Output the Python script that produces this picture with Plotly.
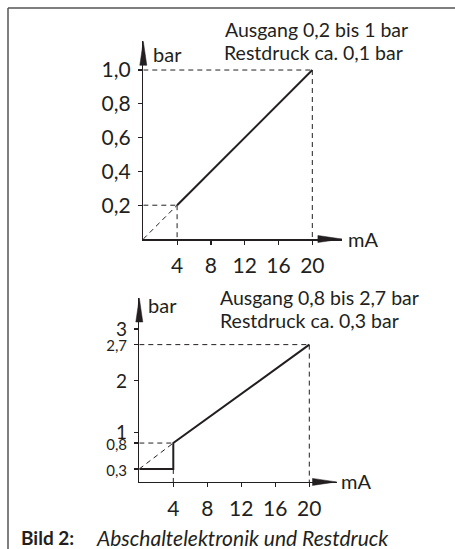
import plotly.graph_objects as go

W, H = 455, 549
FONT = "Lato"
INK = "#231f20"

# ---------------- data ----------------
top_ma = [4, 20]
top_bar = [0.2, 1.0]
top_xticks = [4, 8, 12, 16, 20]
top_yticks = [0.2, 0.4, 0.6, 0.8, 1.0]
top_yticktext = ["0,2", "0,4", "0,6", "0,8", "1,0"]
top_text = ["Ausgang 0,2 bis 1 bar", "Restdruck ca. 0,1 bar"]

bot_ma = [0, 4, 4, 20]
bot_bar = [0.3, 0.3, 0.8, 2.7]
bot_xticks = [4, 8, 12, 16, 20]
bot_yticks = [0.3, 0.8, 1, 2, 2.7, 3]
bot_yticktext = ["0,3", "0,8", "1", "2", "2,7", "3"]
bot_small = ["0,3", "0,8", "2,7"]
bot_text = ["Ausgang 0,8 bis 2,7 bar", "Restdruck ca. 0,3 bar"]

caption_bold = "Bild 2:"
caption_italic = "Abschaltelektronik und Restdruck"


def xp(px):
    return px / W


def yp(px):
    return 1 - px / H


fig = go.Figure()

dash = dict(color=INK, width=1, dash="5px,4px")

# ---- top chart ----
x0, y0 = top_ma[0], top_bar[0]
x1, y1 = top_ma[-1], top_bar[-1]
for xs, ys in [([0, x0], [0, y0]), ([0, x0], [y0, y0]), ([x0, x0], [y0, 0]),
               ([0, x1], [y1, y1]), ([x1, x1], [y1, 0])]:
    fig.add_trace(go.Scatter(x=xs, y=ys, mode="lines", line=dash,
                             xaxis="x", yaxis="y", hoverinfo="skip"))
fig.add_trace(go.Scatter(x=top_ma, y=top_bar, mode="lines",
                         line=dict(color=INK, width=2), xaxis="x", yaxis="y"))

# ---- bottom chart ----
bx0, by0 = bot_ma[0], bot_bar[0]
bx1, by1 = bot_ma[2], bot_bar[2]
bx2, by2 = bot_ma[-1], bot_bar[-1]
for xs, ys in [([bx0, bx1], [by0, by1]), ([0, bx1], [by1, by1]),
               ([bx1, bx1], [bot_bar[1], 0]),
               ([0, bx2], [by2, by2]), ([bx2, bx2], [by2, 0])]:
    fig.add_trace(go.Scatter(x=xs, y=ys, mode="lines", line=dash,
                             xaxis="x2", yaxis="y2", hoverinfo="skip"))
fig.add_trace(go.Scatter(x=bot_ma, y=bot_bar, mode="lines",
                         line=dict(color=INK, width=2), xaxis="x2", yaxis="y2"))

TOP_XR = [0, 23.5]
TOP_YR = [0, 1.17]
BOT_XR = [0, 23.2]
BOT_YR = [0.05, 3.6]

TOP_XD = [xp(143.3), xp(341.9)]
TOP_YD = [yp(239), yp(41.3)]
BOT_XD = [xp(139.3), xp(336.5)]
BOT_YD = [yp(481.9), yp(298)]

axis_common = dict(showgrid=False, zeroline=False, showline=True, linecolor=INK,
                   linewidth=1.5, ticks="outside", ticklen=4, tickwidth=1.2,
                   tickcolor=INK, tickfont=dict(family=FONT, size=21, color=INK),
                   fixedrange=True)


def ytext(texts):
    out = []
    for t in texts:
        if t in bot_small:
            out.append('<span style="font-size:15px">' + t + '</span>')
        else:
            out.append(t)
    return out


fig.update_layout(
    width=W, height=H, margin=dict(l=0, r=0, t=0, b=0),
    paper_bgcolor="white", plot_bgcolor="rgba(0,0,0,0)", showlegend=False,
    xaxis=dict(axis_common, domain=TOP_XD, range=TOP_XR,
               tickvals=top_xticks, anchor="y", ticklabelstandoff=3),
    yaxis=dict(axis_common, domain=TOP_YD, range=TOP_YR,
               tickvals=top_yticks, ticktext=top_yticktext, anchor="x",
               ticklabelstandoff=3),
    xaxis2=dict(axis_common, domain=BOT_XD, range=BOT_XR,
                tickvals=bot_xticks, anchor="y2", ticklabelstandoff=3),
    yaxis2=dict(axis_common, domain=BOT_YD, range=BOT_YR,
                tickvals=bot_yticks, ticktext=ytext(bot_yticktext),
                anchor="x2", ticklabelstandoff=3,
                tickfont=dict(family=FONT, size=19, color=INK)),
)

# arrowheads at the axis ends (paper-anchored so they are not clipped)
XHEAD = "M-24,-3.5 L0,0 L-24,3.5 Z"
YHEAD = "M-3.5,-24 L0,0 L3.5,-24 Z"
arrows = [
    (TOP_XD[1], TOP_YD[0], XHEAD),
    (TOP_XD[0], TOP_YD[1], YHEAD),
    (BOT_XD[1], BOT_YD[0], XHEAD),
    (BOT_XD[0], BOT_YD[1], YHEAD),
]
for xa, ya, path in arrows:
    fig.add_shape(type="path", xref="paper", yref="paper", xsizemode="pixel",
                  ysizemode="pixel", xanchor=xa, yanchor=ya, path=path,
                  fillcolor=INK, line=dict(color=INK, width=0.5))

# frame
fig.add_shape(type="line", xref="paper", yref="paper", x0=xp(8), x1=1, y0=yp(8), y1=yp(8),
              line=dict(color="#555555", width=1.5))
fig.add_shape(type="line", xref="paper", yref="paper", x0=xp(8), x1=xp(8), y0=yp(8), y1=0,
              line=dict(color="#555555", width=1.5))


def label(text, x, y, size=19.5, anchor="left"):
    fig.add_annotation(text=text, xref="paper", yref="paper", x=xp(x), y=yp(y),
                       xanchor=anchor, yanchor="middle", showarrow=False,
                       font=dict(family=FONT, size=size, color=INK))


label(top_text[0], 223, 30)
label(top_text[1], 222, 52)
label("bar", 151, 54, size=20)
label("mA", 346, 239, size=20)

label(bot_text[0], 218, 297)
label(bot_text[1], 218, 320)
label("bar", 146, 305, size=20)
label("mA", 339, 481, size=20)

label("<b>" + caption_bold + "</b>", 19, 537, size=19)
label("<i>" + caption_italic + "</i>", 94, 537, size=21)

fig.write_html(
    "out.html",
    config={"displayModeBar": False, "staticPlot": True},
    post_script="document.body.style.margin='0';"
                "document.documentElement.style.overflow='hidden';"
                "document.body.style.overflow='hidden';",
)
